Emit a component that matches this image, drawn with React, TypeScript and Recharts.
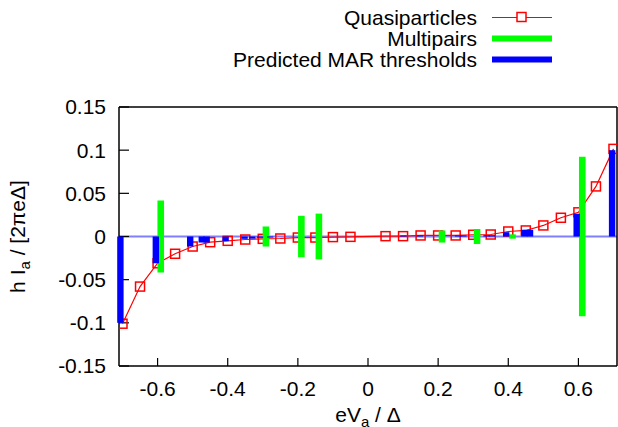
import { ComposedChart, Scatter, ErrorBar, XAxis, YAxis, ReferenceLine } from "recharts";

// quasiparticle current (red squares)
const quasiX = [
  -0.7, -0.65, -0.6, -0.55, -0.5, -0.45, -0.4, -0.35, -0.3, -0.25, -0.2, -0.15, -0.1, -0.05,
  0.05, 0.1, 0.15, 0.2, 0.25, 0.3, 0.35, 0.4, 0.45, 0.5, 0.55, 0.6, 0.65, 0.7,
];
const quasiY = [
  -0.101, -0.058, -0.031, -0.02, -0.0116, -0.0066, -0.005, -0.0035, -0.0027, -0.0023, -0.0012, -0.0012, -0.0007, -0.0004,
  0.0004, 0.0004, 0.0012, 0.0012, 0.0012, 0.002, 0.0023, 0.0058, 0.007, 0.0128, 0.0217, 0.028, 0.058, 0.1015,
];

// multipair bars (green, symmetric about zero)
const multiX = [-0.591, -0.291, -0.19, -0.14, 0.211, 0.311, 0.412, 0.611];
const multiH = [0.0417, 0.0116, 0.024, 0.0265, 0.007, 0.0087, 0.0025, 0.0925];

// predicted MAR thresholds (blue bars from zero)
const marX = [
  -0.706, -0.605, -0.507, -0.474, -0.46, -0.406, -0.352, -0.33, -0.308, -0.279,
  0.101, 0.148, 0.257, 0.272, 0.338, 0.353, 0.394, 0.446, 0.462, 0.595, 0.696,
];
const marY = [
  -0.1, -0.031, -0.0116, -0.007, -0.007, -0.0053, -0.0027, -0.0025, -0.0015, -0.0012,
  0.0012, 0.0012, 0.0012, 0.0012, 0.0015, 0.0015, 0.005, 0.0078, 0.0078, 0.0264, 0.1,
];

const xTicks = [-0.6, -0.4, -0.2, 0, 0.2, 0.4, 0.6];
const yTicks = [-0.15, -0.1, -0.05, 0, 0.05, 0.1, 0.15];

const quasiData = quasiX.map((x, i) => ({ x, y: quasiY[i] }));
const multiData = multiX.map((x, i) => ({ x, y: 0, err: multiH[i] }));
const marData = marX.map((x, i) => ({ x, y: 0, err: marY[i] < 0 ? [-marY[i], 0] : [0, marY[i]] }));

const FONT = "'Liberation Sans', Arial, Helvetica, sans-serif";
const tickStyle = { fill: "#000", fontSize: 21, fontFamily: FONT };

const Square = (p: any) =>
  p.cx == null ? <g /> : (
    <rect x={p.cx - 4.5} y={p.cy - 4.5} width={9} height={9} fill="none" stroke="#ff0000" strokeWidth={1.5} />
  );
const NoShape = () => <g />;

const XLabel = (p: any) => {
  const vb = p.viewBox;
  return (
    <text x={vb.x + vb.width / 2} y={vb.y + 56} textAnchor="middle" fontFamily={FONT} fontSize={21} fill="#000">
      eV<tspan fontSize={15} dy={5}>a</tspan>
      <tspan dy={-5}> / Δ</tspan>
    </text>
  );
};

const YLabel = (p: any) => {
  const vb = p.viewBox;
  const cy = vb.y + vb.height / 2;
  return (
    <text transform={`translate(25,${cy}) rotate(-90)`} textAnchor="middle" fontFamily={FONT} fontSize={21} fill="#000">
      h I<tspan fontSize={15} dy={5}>a</tspan>
      <tspan dy={-5}> / [2πeΔ]</tspan>
    </text>
  );
};

const legendRows = [
  { name: "Quasiparticles", color: "#ff0000", thick: false },
  { name: "Multipairs", color: "#00ff00", thick: true },
  { name: "Predicted MAR thresholds", color: "#0000ff", thick: true },
];

function LegendBox() {
  return (
    <div style={{ position: "absolute", left: 0, top: 0, width: 618, height: 75, pointerEvents: "none" }}>
      {legendRows.map((r, i) => (
        <div key={r.name} style={{ position: "absolute", top: 7 + i * 21, left: 0, width: 618, height: 21 }}>
          <div
            style={{
              position: "absolute",
              right: 141,
              top: 0,
              lineHeight: "21px",
              fontSize: 21,
              fontFamily: FONT,
              whiteSpace: "nowrap",
              color: "#000",
            }}
          >
            {r.name}
          </div>
          <svg style={{ position: "absolute", left: 491, top: 0 }} width={62} height={21}>
            <line x1={1} x2={61} y1={10.5} y2={10.5} stroke={r.color} strokeWidth={r.thick ? 6 : 1.2} />
            {!r.thick && <rect x={26} y={5.5} width={9} height={9} fill="#fff" stroke={r.color} strokeWidth={1.5} />}
          </svg>
        </div>
      ))}
    </div>
  );
}

export default function App() {
  return (
    <div style={{ position: "absolute", left: 0, top: 0, width: 618, height: 427, background: "#fff" }}>
      <ComposedChart width={618} height={427} margin={{ top: 77, right: 0, bottom: 0, left: 0 }}>
        <XAxis
          xAxisId="b"
          dataKey="x"
          type="number"
          domain={[-0.71, 0.71]}
          allowDataOverflow
          ticks={xTicks}
          height={61}
          tickSize={-8}
          tickMargin={23}
          tick={tickStyle}
          axisLine={{ stroke: "#000", strokeWidth: 1.5 }}
          tickLine={{ stroke: "#000", strokeWidth: 1.2 }}
          label={<XLabel />}
        />
        <XAxis
          xAxisId="t"
          orientation="top"
          dataKey="x"
          type="number"
          domain={[-0.71, 0.71]}
          allowDataOverflow
          ticks={xTicks}
          height={30}
          tickSize={-8}
          tick={false}
          axisLine={{ stroke: "#000", strokeWidth: 1.5 }}
          tickLine={{ stroke: "#000", strokeWidth: 1.2 }}
        />
        <YAxis
          yAxisId="l"
          dataKey="y"
          type="number"
          domain={[-0.15, 0.15]}
          allowDataOverflow
          ticks={yTicks}
          width={119}
          tickSize={-10}
          tickMargin={23}
          tick={tickStyle}
          axisLine={{ stroke: "#000", strokeWidth: 1.5 }}
          tickLine={{ stroke: "#000", strokeWidth: 1.2 }}
          label={<YLabel />}
        />
        <YAxis
          yAxisId="r"
          orientation="right"
          dataKey="y"
          type="number"
          domain={[-0.15, 0.15]}
          allowDataOverflow
          ticks={yTicks}
          width={1}
          tickSize={-10}
          tick={false}
          axisLine={{ stroke: "#000", strokeWidth: 1.5 }}
          tickLine={{ stroke: "#000", strokeWidth: 1.2 }}
        />
        <ReferenceLine xAxisId="b" yAxisId="l" y={0} stroke="#8080ff" strokeWidth={2} />
        <Scatter
          xAxisId="b"
          yAxisId="l"
          data={quasiData}
          dataKey="y"
          line={{ stroke: "#ff0000", strokeWidth: 1.2 }}
          lineType="joint"
          shape={<Square />}
          isAnimationActive={false}
        />
        <Scatter xAxisId="b" yAxisId="l" data={multiData} dataKey="y" shape={<NoShape />} isAnimationActive={false} zIndex={700}>
          <ErrorBar dataKey="err" direction="y" width={0} stroke="#00ff00" strokeWidth={6.6} isAnimationActive={false} zIndex={700} />
        </Scatter>
        <Scatter xAxisId="b" yAxisId="l" data={marData} dataKey="y" shape={<NoShape />} isAnimationActive={false} zIndex={710}>
          <ErrorBar dataKey="err" direction="y" width={0} stroke="#0000ff" strokeWidth={6.4} isAnimationActive={false} zIndex={710} />
        </Scatter>
      </ComposedChart>
      <LegendBox />
    </div>
  );
}
